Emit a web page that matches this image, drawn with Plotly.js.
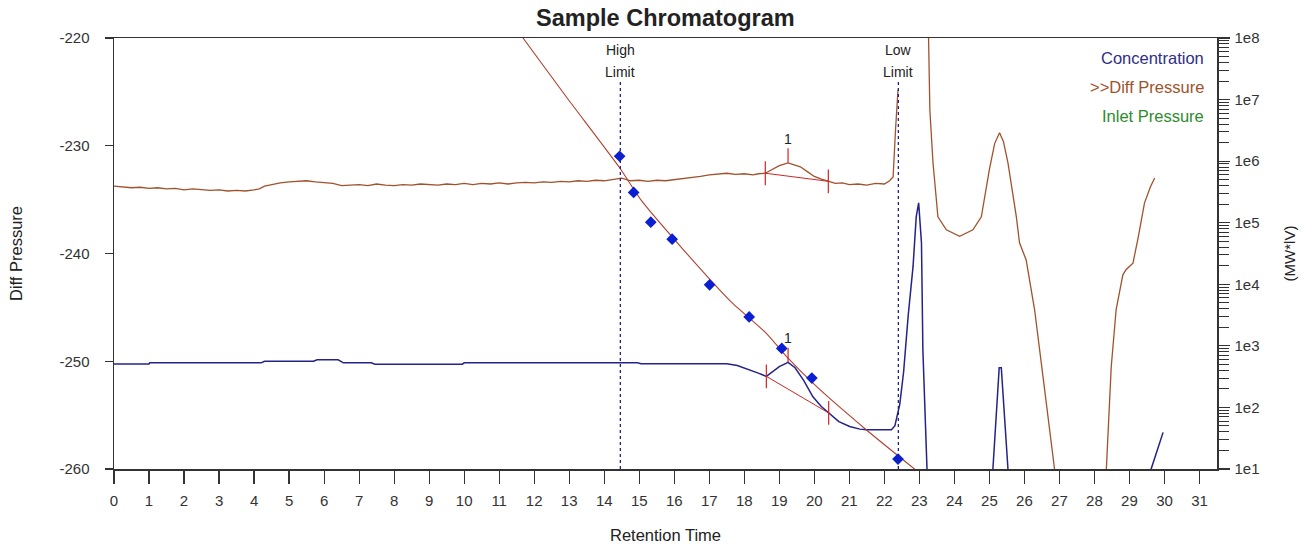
<!DOCTYPE html>
<html>
<head>
<meta charset="utf-8">
<script src="https://cdn.plot.ly/plotly-3.0.1.min.js"></script>
<style>html,body{margin:0;padding:0;background:#fff;}#chart{width:1316px;height:550px;}</style>
</head>
<body>
<div id="chart"></div>
<script>
// Diff Pressure trace (left axis); null = signal off scale (gap)
const timeDiff = [0,0.25,0.5,0.75,1,1.25,1.5,1.75,2,2.25,2.5,2.75,3,3.25,3.5,3.75,4,4.15,4.3,4.5,4.75,5,5.25,5.5,5.75,6,6.25,6.5,6.75,7,7.25,7.5,7.75,8,8.25,8.5,8.75,9,9.25,9.5,9.75,10,10.25,10.5,10.75,11,11.25,11.5,11.75,12,12.25,12.5,12.75,13,13.25,13.5,13.75,14,14.25,14.5,14.75,15,15.25,15.5,15.75,16,16.25,16.5,16.75,17,17.25,17.5,17.75,18,18.25,18.4,18.6,18.8,19.0,19.25,19.4,19.6,19.8,20.0,20.2,20.4,20.6,20.8,21,21.25,21.5,21.75,22,22.15,22.25,22.32,22.39,22.4,23.2,23.26,23.3,23.39,23.53,23.77,24.15,24.53,24.77,25.0,25.15,25.29,25.4,25.53,25.77,25.86,26.05,26.29,26.53,26.72,26.86,26.95,28.25,28.34,28.48,28.62,28.81,28.9,29.1,29.25,29.43,29.6,29.72];
const diffPressure = [-233.75,-233.8,-233.9,-233.85,-233.95,-233.9,-234.0,-233.95,-234.1,-234.0,-234.05,-234.15,-234.1,-234.2,-234.15,-234.2,-234.1,-234.0,-233.75,-233.6,-233.45,-233.35,-233.3,-233.25,-233.35,-233.4,-233.5,-233.7,-233.65,-233.6,-233.7,-233.55,-233.65,-233.7,-233.6,-233.65,-233.55,-233.6,-233.65,-233.55,-233.6,-233.5,-233.6,-233.5,-233.55,-233.45,-233.55,-233.45,-233.4,-233.45,-233.35,-233.4,-233.3,-233.35,-233.25,-233.3,-233.2,-233.25,-233.1,-233.0,-233.25,-233.2,-233.3,-233.2,-233.25,-233.15,-233.1,-232.95,-232.85,-232.7,-232.65,-232.55,-232.65,-232.6,-232.7,-232.6,-232.55,-232.2,-231.85,-231.6,-231.75,-231.95,-232.4,-232.85,-233.1,-233.3,-233.5,-233.45,-233.6,-233.55,-233.65,-233.5,-233.55,-233.25,-232.9,-228.5,-224.8,null,-218,-219.5,-226.7,-231.6,-236.6,-237.8,-238.4,-237.8,-236.6,-232.2,-229.8,-228.8,-229.6,-231.6,-236.6,-239.0,-240.6,-245.2,-251.4,-256.6,-260,-262,-262,-260,-250.5,-245.2,-242.0,-241.5,-240.9,-238.5,-235.3,-233.8,-233.0];

// Concentration trace (left axis)
const timeConc = [0,1.0,1.02,4.2,4.3,5.7,5.8,6.4,6.55,7.35,7.45,9.95,10.0,14.95,15.05,17.5,17.8,18.16,18.4,18.63,18.8,19.0,19.25,19.45,19.7,19.96,20.2,20.41,20.7,21.01,21.3,21.49,22.2,22.3,22.39,22.44,22.55,22.68,22.82,22.91,22.98,23.06,23.1,23.2,23.25,25.05,25.1,25.28,25.34,25.53,25.58,29.58,29.62,29.96];
const concentration = [-250.25,-250.25,-250.15,-250.15,-250.0,-250.0,-249.87,-249.87,-250.15,-250.15,-250.27,-250.27,-250.15,-250.15,-250.24,-250.24,-250.4,-250.8,-251.1,-251.4,-251.0,-250.5,-250.1,-250.6,-251.8,-253.3,-254.2,-254.8,-255.6,-256.06,-256.3,-256.36,-256.36,-256.0,-254.8,-254.0,-251.0,-245.8,-241.2,-236.6,-235.3,-239.0,-248.9,-260,-263,-263,-260,-250.6,-250.6,-260,-263,-263,-260,-256.6];

// Calibration curve and standards (right log axis)
const calTime = [11.68,12.92,14.44,15.06,16.25,17.58,18.63,19.25,20.06,21.49,22.91];
const calMW = [1e8,1.1e7,7.8e5,2.3e5,3.7e4,5.5e3,1.6e3,630,219,43,9.5];
const stdTime = [14.44,14.84,15.33,15.94,17.01,18.14,19.07,19.93,22.39];
const stdMW = [1.2e6,3.1e5,1.02e5,5.4e4,9.8e3,2.95e3,910,300,14.5];

// Integration limits
const limitTop = ['High','Low'];
const limitBottom = ['Limit','Limit'];
const limitTimes = [14.46,22.4];

// Peak integration marks: [diff pressure, concentration]
const peakStartT = [18.6,18.63];
const peakStartV = [-232.55,-251.4];
const peakEndT = [20.4,20.41];
const peakEndV = [-233.3,-254.8];
const peakApexT = [19.25,19.25];
const peakApexV = [-231.57,-250.1];
const peakLabels = ['1','1'];

// Legend text
const legendNames = ['Concentration','>>Diff Pressure','Inlet Pressure'];
const legendColors = ['#2e2e86','#a0522d','#2e8b2e'];

// Axis ticks
const xTickVals = [0,1,2,3,4,5,6,7,8,9,10,11,12,13,14,15,16,17,18,19,20,21,22,23,24,25,26,27,28,29,30,31];
const yTickVals = [-260,-250,-240,-230,-220];
const yTickText = ['-260','-250','-240','-230','-220'];
const mwTickVals = [1e1,1e2,1e3,1e4,1e5,1e6,1e7,1e8];
const mwTickText = ['1e1','1e2','1e3','1e4','1e5','1e6','1e7','1e8'];

const FONT = 'Liberation Sans, Arial, sans-serif';
const red = '#d02525';

const traces = [
  {x: timeDiff, y: diffPressure, type:'scatter', mode:'lines', connectgaps:false, line:{color:'#a0522d', width:1.3}, hoverinfo:'skip'},
  {x: timeConc, y: concentration, type:'scatter', mode:'lines', line:{color:'#23238a', width:1.5}, hoverinfo:'skip'},
  {x: calTime, y: calMW, yaxis:'y2', type:'scatter', mode:'lines', line:{color:'#b0402e', width:1.1, shape:'spline', smoothing:0.6}, hoverinfo:'skip'},
  {x: stdTime, y: stdMW, yaxis:'y2', type:'scatter', mode:'markers', marker:{symbol:'diamond', size:9, color:'#0a1ed2'}, hoverinfo:'skip'}
];
for (let i = 0; i < peakStartT.length; i++) {
  traces.push({x:[peakStartT[i], peakEndT[i]], y:[peakStartV[i], peakEndV[i]], type:'scatter', mode:'lines+markers',
    line:{color:red, width:1}, marker:{symbol:'line-ns', size:17, line:{color:red, width:1.2}}, hoverinfo:'skip'});
}

const shapes = limitTimes.map(t => ({type:'line', xref:'x', yref:'paper', x0:t, x1:t, y0:0, y1:0.898,
  line:{color:'#22228a', width:1.3, dash:'3px,3px'}}));

const annotations = [];
limitTimes.forEach((t,i) => {
  annotations.push({x:t, xref:'x', yref:'paper', y:(469-50)/431, yanchor:'middle', text:limitTop[i], showarrow:false, font:{family:FONT, size:14, color:'#222'}});
  annotations.push({x:t, xref:'x', yref:'paper', y:(469-72)/431, yanchor:'middle', text:limitBottom[i], showarrow:false, font:{family:FONT, size:14, color:'#222'}});
});
peakApexT.forEach((t,i) => {
  annotations.push({x:t, y:peakApexV[i], xref:'x', yref:'y', text:peakLabels[i], showarrow:true, arrowhead:0, arrowwidth:1.2, arrowcolor:red,
    ax:0, ay:-24, standoff:0, font:{family:FONT, size:14, color:'#222'}});
});
legendNames.forEach((n,i) => {
  annotations.push({xref:'paper', yref:'paper', x:(1206-114)/1103, y:(469-(58+i*29))/431, xanchor:'right', yanchor:'middle',
    text:n, showarrow:false, font:{family:FONT, size:16.5, color:legendColors[i]}});
});

const layout = {
  width:1316, height:550,
  margin:{l:114, r:99, t:38, b:81, pad:0},
  paper_bgcolor:'#fff', plot_bgcolor:'#fff',
  showlegend:false,
  font:{family:FONT, color:'#222'},
  title:{text:'<b>Sample Chromatogram</b>', font:{family:FONT, size:23.5, color:'#222'}, x:0.5056, xanchor:'center', y:1-18/550, yref:'container', yanchor:'middle'},
  xaxis:{range:[0,31.5], tickmode:'array', tickvals:xTickVals, ticks:'outside', ticklen:13, tickwidth:1.2, tickcolor:'#333',
    showline:true, linecolor:'#333', linewidth:1.5, mirror:true, showgrid:false, zeroline:false,
    tickfont:{family:FONT, size:15, color:'#333'}, ticklabelstandoff:4,
    title:{text:'Retention Time', font:{family:FONT, size:16.5, color:'#222'}, standoff:22}},
  yaxis:{range:[-260,-220], tickmode:'array', tickvals:yTickVals, ticktext:yTickText, ticks:'outside', ticklen:8, tickwidth:1.2, tickcolor:'#333',
    showline:true, linecolor:'#333', linewidth:1.5, showgrid:false, zeroline:false,
    tickfont:{family:FONT, size:15, color:'#333'}, ticklabelstandoff:12,
    title:{text:'Diff Pressure', font:{family:FONT, size:16.5, color:'#222'}, standoff:32}},
  yaxis2:{type:'log', range:[1,8], overlaying:'y', side:'right', anchor:'x', tickmode:'array', tickvals:mwTickVals, ticktext:mwTickText,
    ticks:'outside', ticklen:11, tickwidth:1.2, tickcolor:'#333', showline:true, linecolor:'#333', linewidth:1.5, showgrid:false, zeroline:false,
    minor:{ticks:'outside', ticklen:10, dtick:'D1', tickcolor:'#333', tickwidth:1, showgrid:false},
    tickfont:{family:FONT, size:15, color:'#333'}, ticklabelstandoff:2,
    title:{text:'(MW*lV)', font:{family:FONT, size:15, color:'#222'}, standoff:26}},
  shapes:shapes,
  annotations:annotations
};

Plotly.newPlot('chart', traces, layout, {staticPlot:true, displayModeBar:false});
</script>
</body>
</html>
